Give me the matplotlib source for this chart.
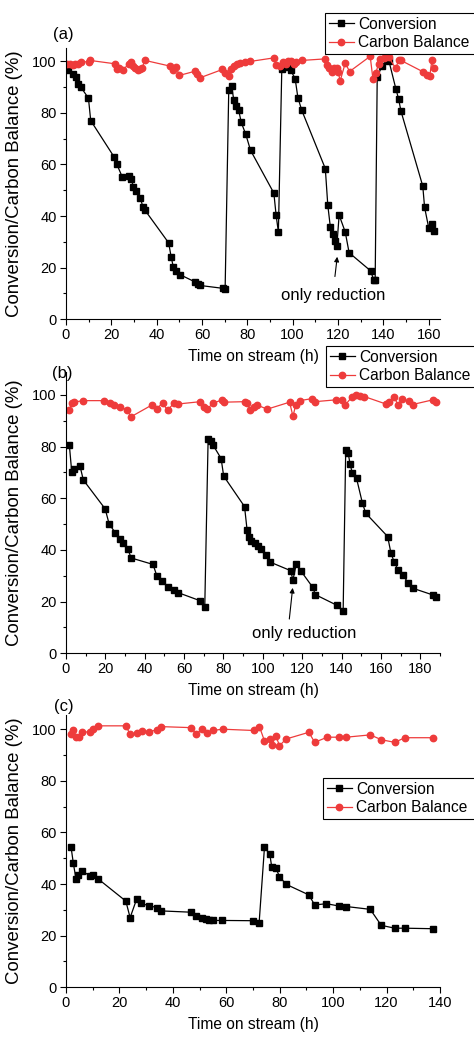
import matplotlib
matplotlib.use("Agg")
import matplotlib.pyplot as plt
from matplotlib.ticker import MultipleLocator

plt.rcParams['font.family'] = ['Liberation Sans', 'DejaVu Sans']

# ---------------- Panel (a) ----------------
a_conv_t = [1.0, 3.2, 4.4, 5.4, 6.5, 9.9, 10.9, 21.3, 22.4, 24.9, 27.7, 28.8, 29.7, 30.8, 32.8, 33.9, 34.9,
            45.3, 46.4, 47.4, 48.4, 50.3, 57.1, 58.1, 59.2, 69.2, 70.2, 71.8, 73.1, 74.0, 75.0, 76.2, 77.3,
            79.3, 81.4, 91.7, 92.7, 93.7, 95.2, 97.1, 98.2, 99.2, 101.1, 102.3, 104.0, 114.4, 115.5, 116.6,
            117.6, 118.5, 119.5, 120.5, 123.2, 124.9, 134.5, 135.7, 136.4, 137.3, 139.4, 141.6, 142.5, 145.5,
            146.7, 147.8, 157.4, 158.2, 160.0, 161.4, 162.5]
a_conv_v = [96.7, 94.9, 93.9, 91.0, 90.0, 85.7, 77.0, 62.8, 60.1, 55.0, 55.7, 54.5, 51.3, 49.9, 47.0, 43.6, 42.2,
            29.6, 24.1, 20.1, 18.6, 17.3, 14.4, 13.7, 13.1, 12.0, 11.7, 88.7, 90.2, 85.1, 82.8, 81.0, 76.3,
            71.7, 65.5, 48.9, 40.3, 33.8, 96.8, 97.6, 98.0, 96.4, 93.2, 85.9, 81.0, 58.4, 44.2, 35.9,
            32.9, 30.3, 28.5, 40.4, 33.8, 25.8, 18.7, 15.2, 15.2, 93.9, 98.1, 100.3, 100.0, 89.4,
            85.5, 80.6, 51.6, 43.4, 35.5, 36.9, 34.1]
a_cb_t = [0.6, 1.8, 2.9, 4.0, 5.4, 6.5, 10.0, 10.6, 21.6, 22.4, 23.5, 25.0, 28.0, 28.6, 29.4, 30.5, 31.6, 32.7,
          33.4, 34.9, 45.9, 47.0, 48.6, 50.0, 56.9, 58.0, 59.2, 69.0, 70.3, 71.7, 72.7, 73.9, 75.4, 76.8,
          79.0, 81.2, 91.8, 92.7, 94.2, 95.9, 97.1, 98.1, 99.2, 100.4, 101.4, 104.0, 114.4, 115.1, 116.1,
          117.3, 118.3, 119.4, 120.2, 120.9, 123.2, 125.1, 134.2, 135.4, 136.7, 137.9, 138.6, 140.2, 141.3,
          142.3, 145.5, 146.7, 147.8, 157.5, 159.2, 160.5, 161.4, 162.2]
a_cb_v = [98.8, 99.0, 98.4, 99.0, 98.8, 99.7, 99.8, 100.3, 99.0, 97.1, 97.3, 96.7, 99.0, 99.7, 98.0, 97.3, 96.4,
          97.1, 97.3, 100.3, 98.1, 96.4, 97.7, 94.5, 96.1, 95.0, 93.6, 96.8, 95.5, 94.1, 97.1, 98.1, 99.0,
          99.4, 99.7, 99.9, 101.3, 98.4, 98.1, 99.7, 99.0, 99.9, 100.1, 99.0, 99.7, 100.3, 100.9, 98.5,
          97.3, 95.9, 97.2, 97.5, 95.8, 92.2, 99.3, 96.0, 101.9, 93.2, 95.5, 99.0, 100.9, 101.3, 101.6,
          101.6, 97.2, 100.3, 100.3, 95.9, 94.8, 94.3, 100.3, 97.3]

# ---------------- Panel (b) ----------------
b_conv_t = [1.7, 2.9, 4.1, 7.1, 8.8, 19.9, 21.9, 25.0, 27.2, 28.9, 31.4, 33.1, 44.2, 46.2, 48.9, 51.8, 54.7,
            56.9, 68.3, 70.5, 72.2, 73.9, 74.7, 78.8, 80.1, 90.7, 92.0, 92.9, 94.1, 95.9, 97.6, 99.3, 101.7,
            103.4, 114.1, 115.3, 117.0, 119.2, 125.3, 126.7, 137.6, 140.8, 142.1, 143.3, 144.3, 145.5, 147.6,
            150.6, 152.3, 163.4, 165.1, 166.8, 168.8, 171.0, 173.9, 176.1, 186.3, 188.0]
b_conv_v = [80.6, 70.3, 71.5, 72.5, 67.1, 55.9, 50.1, 46.7, 44.3, 42.6, 40.4, 36.9, 34.4, 29.9, 28.1, 25.6, 24.5,
            23.5, 20.3, 18.1, 83.0, 82.2, 80.6, 75.4, 68.6, 56.8, 47.7, 45.2, 43.3, 42.8, 41.7, 40.4, 38.0,
            35.4, 32.0, 28.4, 34.6, 32.0, 25.6, 22.7, 18.6, 16.5, 78.7, 77.7, 73.3, 69.7, 67.7,
            58.1, 54.2, 45.2, 38.7, 35.2, 32.2, 30.3, 27.3, 25.2, 22.6, 21.7]
b_cb_t = [1.7, 2.9, 4.1, 8.5, 19.4, 22.1, 24.6, 27.2, 31.2, 32.9, 43.6, 46.0, 49.1, 51.6, 54.7, 56.9, 68.3,
          70.3, 71.6, 74.7, 79.3, 80.1, 90.9, 92.0, 93.7, 95.4, 97.1, 102.2, 113.6, 115.3, 116.7, 118.7,
          125.2, 126.5, 137.0, 140.4, 141.8, 145.5, 147.2, 149.4, 151.5, 162.5, 164.2, 166.8, 168.5, 170.5,
          174.4, 176.1, 186.3, 188.0]
b_cb_v = [94.2, 96.8, 97.2, 97.8, 97.8, 97.0, 96.1, 95.5, 94.1, 91.5, 96.1, 94.5, 97.0, 94.0, 96.8, 96.5, 97.4,
          95.5, 94.5, 96.8, 98.1, 97.2, 97.4, 96.8, 94.2, 95.5, 96.1, 94.5, 97.2, 91.7, 96.1, 97.8,
          98.6, 97.4, 98.1, 98.1, 96.1, 99.4, 100.0, 99.6, 99.4, 96.5, 97.4, 99.4, 96.1, 98.3,
          97.6, 96.3, 98.1, 97.4]

# ---------------- Panel (c) ----------------
c_conv_t = [1.9, 2.75, 3.75, 4.6, 5.9, 9.0, 10.25, 11.9, 22.4, 24.0, 26.5, 28.1, 31.1, 34.0, 35.6, 46.7, 48.75,
            50.9, 52.4, 53.4, 55.0, 58.5, 70.0, 72.3, 74.3, 76.3, 77.0, 78.5, 79.9, 82.4, 90.9, 93.1, 97.5,
            102.1, 104.9, 113.9, 118.0, 123.1, 126.8, 137.4]
c_conv_v = [54.3, 48.0, 42.0, 43.5, 45.1, 43.2, 43.4, 42.1, 33.4, 27.0, 34.3, 32.5, 31.6, 30.9, 29.6, 29.1, 27.6,
            26.7, 26.4, 26.2, 25.9, 25.9, 25.8, 25.1, 54.3, 51.5, 46.7, 46.4, 42.9, 39.9, 35.8, 31.9, 32.4,
            31.5, 31.3, 30.2, 24.0, 22.9, 22.9, 22.7]
c_cb_t = [1.9, 2.75, 3.75, 4.9, 5.9, 9.0, 10.25, 11.9, 22.4, 24.0, 26.5, 28.4, 31.25, 34.0, 35.6, 46.9, 48.75,
          50.9, 52.75, 54.9, 58.6, 70.25, 72.4, 74.25, 76.25, 77.1, 78.6, 79.9, 82.4, 90.9, 93.1, 97.75,
          102.1, 104.9, 113.9, 118.1, 123.1, 126.8, 137.5]
c_cb_v = [98.2, 99.7, 97.1, 96.8, 99.1, 98.8, 99.9, 101.3, 101.3, 98.0, 98.4, 99.3, 99.1, 99.7, 101.0, 100.6, 98.0,
          100.1, 98.7, 99.5, 100.0, 99.5, 101.0, 95.6, 96.1, 93.9, 97.4, 93.6, 96.2, 98.8, 94.9, 96.9,
          96.9, 96.9, 97.8, 95.9, 94.9, 96.7, 96.7]

labels = ["Conversion", "Carbon Balance"]
x_label = "Time on stream (h)"
y_label = "Conversion/Carbon Balance (%)"
annot = "only reduction"

RED = '#EE3B3B'
W, H = 474, 1037
fig = plt.figure(figsize=(W / 100, H / 100), dpi=100)


def px_axes(left, top, right, bottom):
    return fig.add_axes([left / W, 1 - bottom / H, (right - left) / W, (bottom - top) / H])


def style(ax, xmax, ymax, xmajor):
    ax.set_xlim(0, xmax)
    ax.set_ylim(0, ymax)
    for s in ['top', 'right']:
        ax.spines[s].set_visible(False)
    for s in ['left', 'bottom']:
        ax.spines[s].set_linewidth(0.8)
    ax.xaxis.set_major_locator(MultipleLocator(xmajor))
    ax.xaxis.set_minor_locator(MultipleLocator(xmajor / 2))
    ax.yaxis.set_major_locator(MultipleLocator(20))
    ax.yaxis.set_minor_locator(MultipleLocator(10))
    ax.tick_params(which='major', direction='out', length=4.5, width=0.8, labelsize=10.5, pad=2)
    ax.tick_params(which='minor', direction='out', length=2.5, width=0.8)
    ax.set_xlabel(x_label, fontsize=11.2, labelpad=5)
    ax.set_ylabel(y_label, fontsize=13.4)
    ax.yaxis.set_label_coords(-0.114, 0.5)


def plot(ax, ct, cv, bt, bv):
    l1, = ax.plot(ct, cv, color='black', lw=0.9, marker='s', ms=4.2, label=labels[0])
    l2, = ax.plot(bt, bv, color=RED, lw=0.9, marker='o', ms=4.6, label=labels[1])
    return [l1, l2]


def legend(handles, left, top):
    # legend box runs past the right edge of the figure, as in the original
    leg = fig.legend(handles=handles, loc='upper left',
                     bbox_to_anchor=(left / W, 1 - top / H - 0.05, (W + 12 - left) / W, 0.05),
                     bbox_transform=fig.transFigure, mode='expand', fontsize=11.2, frameon=True,
                     fancybox=False, edgecolor='black', framealpha=1, borderpad=0.25,
                     labelspacing=0.22, handlelength=1.6, handletextpad=0.3, borderaxespad=0)
    leg.get_frame().set_linewidth(0.8)
    return leg


ARROW = dict(arrowstyle='-|>', color='black', lw=0.8, mutation_scale=7)

# (a)
axa = px_axes(66, 48.3, 440, 319.3)
h = plot(axa, a_conv_t, a_conv_v, a_cb_t, a_cb_v)
style(axa, 165, 105, 20)
axa.text(-0.007, 1.05, "(a)", transform=axa.transAxes, fontsize=12, ha='center', va='center')
axa.annotate("", xy=(119.8, 25.3), xytext=(118.5, 15.5), arrowprops=ARROW)
axa.text(117.7, 9.4, annot, fontsize=12, ha='center', va='center')
legend(h, 325, 13)

# (b)
axb = px_axes(66, 371.7, 440, 653.3)
h = plot(axb, b_conv_t, b_conv_v, b_cb_t, b_cb_v)
style(axb, 190, 109, 20)
axb.text(-0.011, 0.995, "(b)", transform=axb.transAxes, fontsize=12, ha='center', va='center')
axb.annotate("", xy=(115.3, 26.4), xytext=(113.3, 12.2), arrowprops=ARROW)
axb.text(121.1, 7.7, annot, fontsize=12, ha='center', va='center')
legend(h, 326, 346)

# (c)
axc = px_axes(66, 715, 440, 987.3)
h = plot(axc, c_conv_t, c_conv_v, c_cb_t, c_cb_v)
style(axc, 140, 105.5, 20)
axc.text(-0.007, 1.03, "(c)", transform=axc.transAxes, fontsize=12, ha='center', va='center')
legend(h, 323, 777.7)

fig.savefig("out.png", dpi=100)
